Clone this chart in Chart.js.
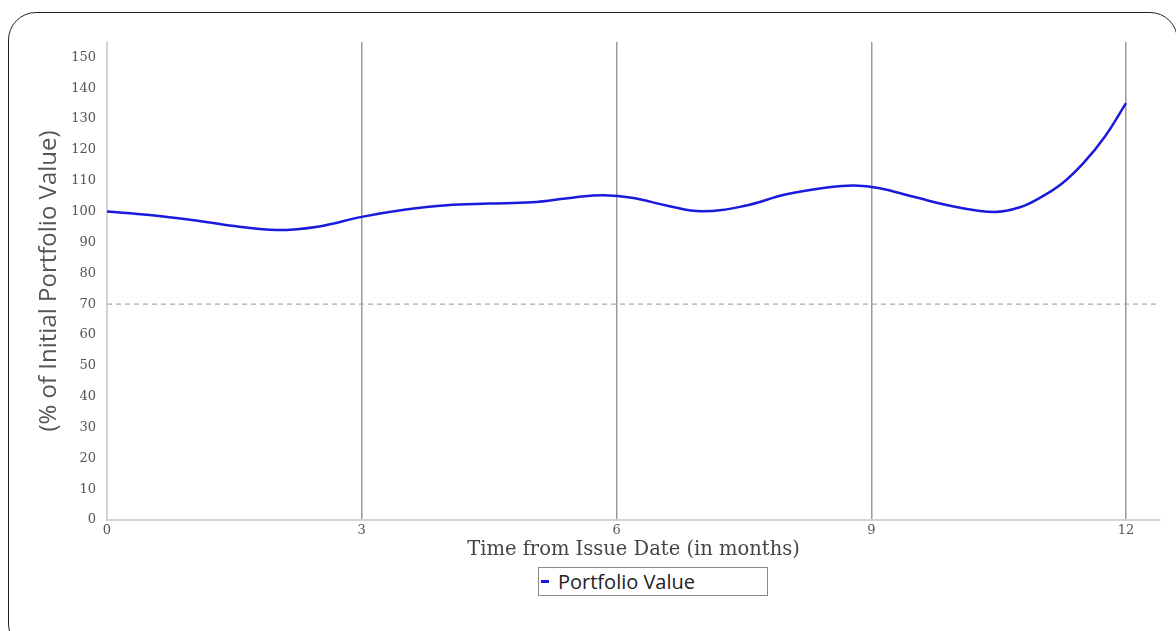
<!DOCTYPE html>
<html>
<head>
<meta charset="utf-8">
<script src="https://cdn.jsdelivr.net/npm/chart.js@4"></script>
<style>
    html, body { margin: 0; padding: 0; background: #fff; overflow: hidden; }
    #wrap { position: relative; width: 1176px; height: 631px; }
    #frame {
        position: absolute; left: 8px; top: 12px; width: 1170px; height: 640px;
        border: 1.5px solid #222; border-radius: 28px; box-sizing: border-box;
    }
    #chart { position: absolute; left: 0; top: 0; }
    #legend {
        position: absolute; left: 538px; top: 567px; width: 230px; height: 29px;
        border: 1px solid #8a8a8a; box-sizing: border-box; background: #fff;
        font-family: "Open Sans", sans-serif; font-size: 20px; color: #222;
        display: flex; align-items: center;
    }
    #legend .mark { width: 8px; height: 3px; margin: 0 9px 0 2px; }
</style>
</head>
<body>
<div id="wrap">
    <div id="frame"></div>
    <canvas id="chart" width="1176" height="631"></canvas>
    <div id="legend"></div>
</div>
<script>
// months since issue date
const months = [0, 0.5, 1, 1.5, 2, 2.5, 3, 3.5, 4, 4.5, 5, 5.5, 5.85, 6.2, 6.6, 7, 7.5, 8, 8.5, 8.8, 9.1, 9.5, 10, 10.45, 10.75, 11, 11.25, 11.5, 11.75, 12]
// portfolio value, % of initial
const portfolioValue = [100, 98.9, 97.3, 95.3, 94.0, 95.2, 98.3, 100.6, 102.1, 102.6, 103.0, 104.6, 105.3, 104.4, 101.9, 100.1, 101.8, 105.6, 107.9, 108.5, 107.6, 104.8, 101.5, 99.9, 101.4, 104.7, 109.2, 115.8, 124.3, 135.2]
const barrierLevel = 70
const xTicks = [0, 3, 6, 9, 12]
const yTicks = [0, 10, 20, 30, 40, 50, 60, 70, 80, 90, 100, 110, 120, 130, 140, 150]

const tickFont = { family: 'DejaVu Serif', size: 13 }

const chart = new Chart(document.getElementById('chart'), {
    type: 'line',
    data: {
        datasets: [{
            label: 'Portfolio Value',
            data: months.map((m, i) => ({ x: m, y: portfolioValue[i] })),
            borderColor: '#1a1adc',
            borderWidth: 2.5,
            pointRadius: 0,
            tension: 0.4
        }, {
            label: 'Barrier',
            data: [{ x: 0, y: barrierLevel }, { x: 12.4, y: barrierLevel }],
            borderColor: '#aaaaaa',
            borderWidth: 1.2,
            borderDash: [5, 4],
            pointRadius: 0
        }]
    },
    options: {
        responsive: false,
        animation: false,
        layout: { padding: { left: 0, top: 42, right: 16, bottom: 69 } },
        plugins: { legend: { display: false }, tooltip: { enabled: false } },
        scales: {
            x: {
                type: 'linear',
                min: 0,
                max: 12.4,
                afterBuildTicks: s => { s.ticks = xTicks.map(v => ({ value: v })) },
                afterFit: s => { s.height = 42 },
                grid: {
                    drawTicks: false,
                    color: ctx => ctx.tick && ctx.tick.value === 0 ? 'rgba(0,0,0,0)' : '#9a9a9a',
                    lineWidth: 1.5
                },
                border: { color: '#d4d4d4', width: 2 },
                ticks: { font: tickFont, color: '#555', padding: 3, maxRotation: 0 },
                title: {
                    display: true,
                    text: 'Time from Issue Date (in months)',
                    font: { family: 'DejaVu Serif', size: 19.5 },
                    color: '#444',
                    padding: 0
                }
            },
            y: {
                min: 0,
                max: 155,
                afterBuildTicks: s => { s.ticks = yTicks.map(v => ({ value: v })) },
                afterFit: s => { s.width = 107 },
                grid: { display: false },
                border: { color: '#d4d4d4', width: 2 },
                ticks: { font: tickFont, color: '#555', padding: 3 },
                title: {
                    display: true,
                    text: '(% of Initial Portfolio Value)',
                    font: { family: 'Open Sans', size: 24 },
                    color: '#555',
                    padding: { top: 35, bottom: 0 }
                }
            }
        }
    }
})

const legend = document.getElementById('legend')
const main = chart.data.datasets[0]
legend.innerHTML = `<span class="mark" style="background:${main.borderColor}"></span><span>${main.label}</span>`
</script>
</body>
</html>
